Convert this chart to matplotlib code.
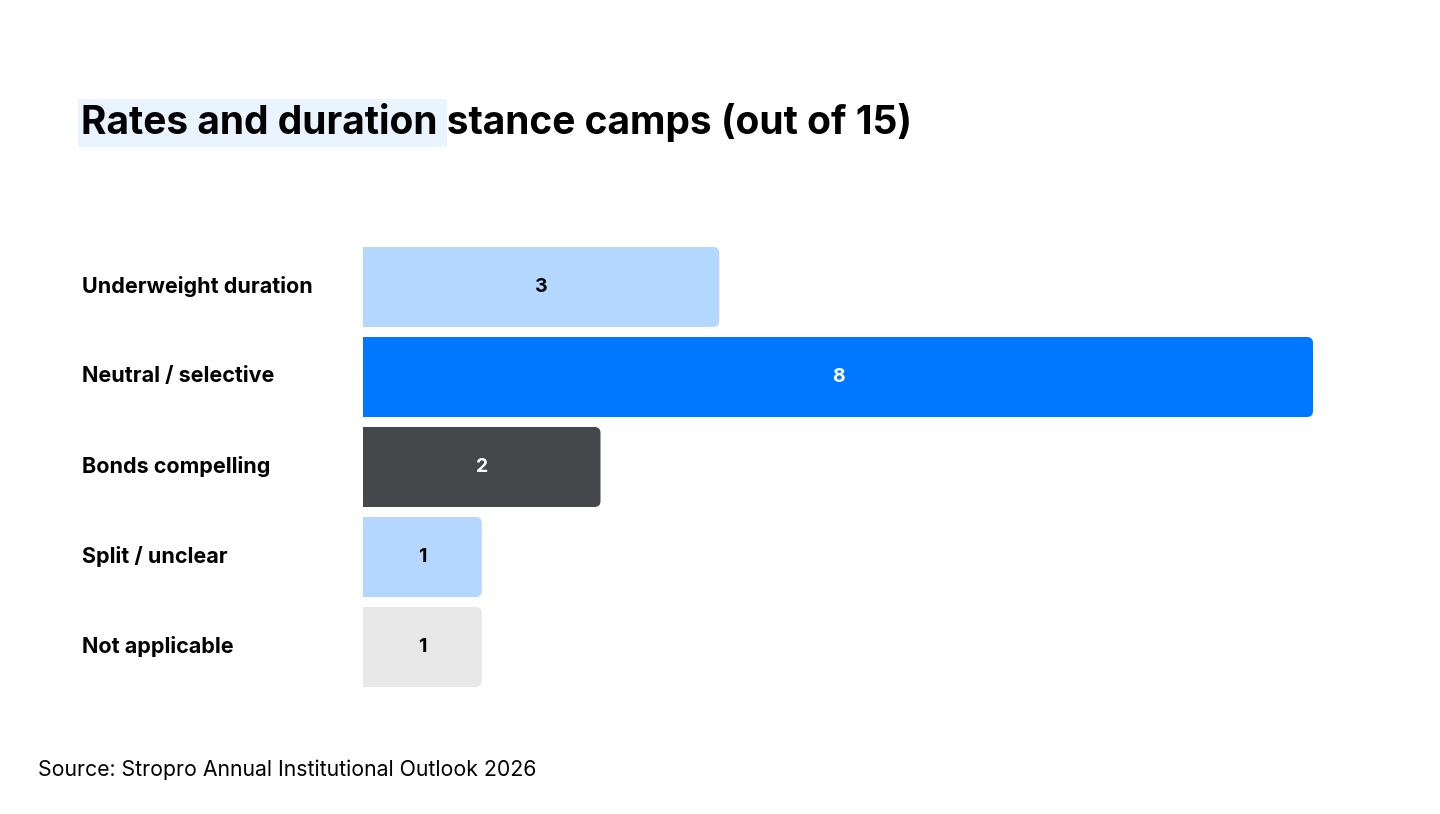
import matplotlib
matplotlib.use('Agg')
import matplotlib.pyplot as plt
import matplotlib.transforms as mtransforms
from matplotlib.patches import FancyBboxPatch, Rectangle

# data
categories = ['Underweight duration', 'Neutral / selective', 'Bonds compelling', 'Split / unclear', 'Not applicable']
counts = [3, 8, 2, 1, 1]
bar_colors = ['#B3D7FF', '#0077FF', '#46474B', '#B3D7FF', '#E8E8E8']
text_colors = ['#000000', '#FFFFFF', '#FFFFFF', '#000000', '#000000']

plt.rcParams['font.family'] = ['Inter', 'DejaVu Sans']

W, H = 1440, 814
fig = plt.figure(figsize=(14.4, 8.14), dpi=100)

# axes: x 0..8 spans px 363..1313, rows 90px apart
ax = fig.add_axes([363 / W, 1 - 692 / H, 950 / W, 450 / H])
ax.set_xlim(0, 8)
ax.set_ylim(len(categories) - 0.5, -0.5)
ax.axis('off')

ypos = list(range(len(categories)))
bars = ax.barh(ypos, counts, height=80 / 90, color=bar_colors)

# round only the right end: keep a square left half, rounded box on top
r = 6 / 118.75
asp = (1 / 90) / (1 / 118.75)
for b, c in zip(bars, bar_colors):
    x0, y0, w, h = b.get_x(), b.get_y(), b.get_width(), b.get_height()
    b.set_width(w / 2)
    ax.add_patch(FancyBboxPatch((x0, y0), w, h,
                                boxstyle='round,pad=0,rounding_size=%f' % r,
                                mutation_aspect=asp, fc=c, ec='none'))

for yi, v, tc in zip(ypos, counts, text_colors):
    ax.text(v / 2, yi, str(v), ha='center', va='center', fontsize=14,
            fontweight='bold', color=tc)

# category labels
lab_tr = mtransforms.blended_transform_factory(fig.transFigure, ax.transData)
for yi, cat in zip(ypos, categories):
    fig.text(82 / W, yi - 0.01, cat, fontsize=15.5, fontweight='bold', va='center',
             transform=lab_tr, color='#000000')

# title with highlight
fig.patches.append(Rectangle((78 / W, 1 - 147 / H), (447 - 78) / W, 48 / H,
                             transform=fig.transFigure, fc='#EAF4FF', ec='none', zorder=0))
fig.text(81 / W, 1 - 123 / H, 'Rates and duration stance camps (out of 15)',
         fontsize=28, fontweight='bold', va='center', color='#000000')

fig.text(38 / W, 1 - 770 / H, 'Source: Stropro Annual Institutional Outlook 2026',
         fontsize=15.3, va='center', color='#000000')

fig.savefig('out.png', dpi=100, facecolor='white')
